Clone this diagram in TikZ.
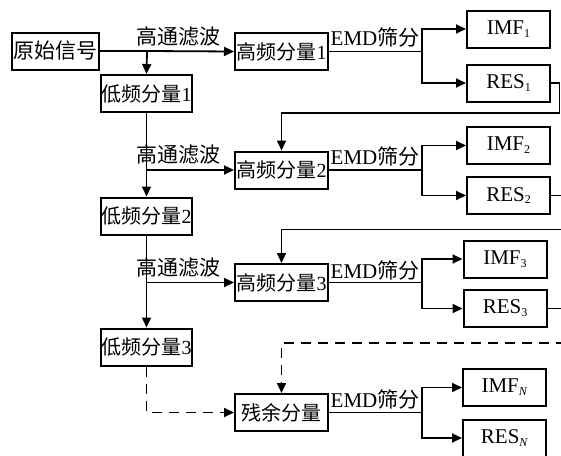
\documentclass[tikz,border=0pt]{standalone}
\usepackage{fontspec}
\setmainfont{Liberation Serif}
\newfontfamily\cjk{Noto Sans CJK SC}
\usetikzlibrary{arrows.meta}

\newcommand{\sub}[1]{\raisebox{-0.3ex}{\fontsize{12}{14}\selectfont #1}}

\tikzset{
  blk/.style={draw, line width=2pt, inner xsep=0.5pt, inner ysep=1pt,
    minimum height=37pt, font=\fontsize{20}{24}\selectfont},
  srcbox/.style={blk, minimum width=87pt, font=\fontsize{21}{25}\selectfont},
  lowbox/.style={blk, minimum width=91pt},
  highbox/.style={blk, minimum width=93pt},
  outbox/.style={blk, minimum width=83pt, font=\fontsize{21}{25}\selectfont},
  lbl/.style={inner sep=0pt, font=\fontsize{21}{25}\selectfont},
  wire/.style={line width=1.8pt},
  arr/.style={wire, -{Triangle[length=10pt,width=9pt]}},
  dsh/.style={wire, dash pattern=on 10pt off 7pt}
}

\begin{document}
\begin{tikzpicture}[x=1pt, y=-1pt]

  %% Page size
  \useasboundingbox (0,0) rectangle (561,455);

  %% Left column: signal and low frequency parts
  \node[srcbox] (src) at (55.5,51) {{\cjk 原始信号}};
  \node[lowbox] (low1) at (146.5,93.5) {{\cjk 低频分量}1};
  \node[lowbox] (low2) at (146.5,216) {{\cjk 低频分量}2};
  \node[lowbox] (low3) at (146.5,347) {{\cjk 低频分量}3};

  %% Middle column: high frequency parts
  \node[highbox] (high1) at (281.5,51.5) {{\cjk 高频分量}1};
  \node[highbox] (high2) at (281.5,170) {{\cjk 高频分量}2};
  \node[highbox] (high3) at (281.5,282.5) {{\cjk 高频分量}3};
  \node[highbox] (resid) at (281.5,412.5) {{\cjk 残余分量}};

  %% Right column: IMF and residue
  \node[outbox] (imf1) at (508.5,29) {IMF\sub{1}};
  \node[outbox] (res1) at (508.5,83) {RES\sub{1}};
  \node[outbox] (imf2) at (508.5,145.5) {IMF\sub{2}};
  \node[outbox] (res2) at (508.5,195.5) {RES\sub{2}};
  \node[outbox] (imf3) at (505,259) {IMF\sub{3}};
  \node[outbox] (res3) at (505,308.5) {RES\sub{3}};
  \node[outbox] (imfN) at (504.5,387.5) {IMF\sub{\textit{N}}};
  \node[outbox] (resN) at (504.5,438) {RES\sub{\textit{N}}};

  %% Labels
  \node[lbl] (hp1) at (178,37) {{\cjk 高通滤波}};
  \node[lbl] (hp2) at (178,155) {{\cjk 高通滤波}};
  \node[lbl] (hp3) at (178,268) {{\cjk 高通滤波}};
  \node[lbl] (emd1) at (375,37) {EMD{\cjk 筛分}};
  \node[lbl] (emd2) at (375,156) {EMD{\cjk 筛分}};
  \node[lbl] (emd3) at (375,270) {EMD{\cjk 筛分}};
  \node[lbl] (emd4) at (375,399) {EMD{\cjk 筛分}};

  %% Split points
  \coordinate (j0) at (147,51);
  \coordinate (j1) at (147,170);
  \coordinate (j2) at (147,282.5);
  \coordinate (e1) at (422,51.5);
  \coordinate (e2) at (422,170);
  \coordinate (e3) at (422,282.5);
  \coordinate (e4) at (422,412.5);
  \coordinate (f1) at (559.5,113);
  \coordinate (f2) at (566,229.5);
  \coordinate (f3) at (566,308.5);
  \coordinate (f4) at (566,343);

  %% High pass filtering
  \draw[wire] (src.east) -- (j0);
  \draw[arr] (j0) -- (high1.west);
  \draw[arr] (j0) -- (low1.north);
  \draw[arr] (low1.south) -- (low2.north);
  \draw[arr] (j1) -- (high2.west);
  \draw[arr] (low2.south) -- (low3.north);
  \draw[arr] (j2) -- (high3.west);
  \draw[dsh, -{Triangle[length=10pt,width=9pt]}] (low3.south) |- (resid.west);

  %% EMD sifting
  \draw[wire] (high1.east) -- (e1);
  \draw[arr] (e1) |- (imf1.west);
  \draw[arr] (e1) |- (res1.west);
  \draw[wire] (high2.east) -- (e2);
  \draw[arr] (e2) |- (imf2.west);
  \draw[arr] (e2) |- (res2.west);
  \draw[wire] (high3.east) -- (e3);
  \draw[arr] (e3) |- (imf3.west);
  \draw[arr] (e3) |- (res3.west);
  \draw[wire] (resid.east) -- (e4);
  \draw[arr] (e4) |- (imfN.west);
  \draw[arr] (e4) |- (resN.west);

  %% Feedback of the residue
  \draw[wire] (res1.east) -| (f1);
  \draw[arr] (f1) -| (high2.north);
  \draw[wire] (res2.east) -| (f2);
  \draw[arr] (f2) -| (high3.north);
  \draw[wire] (res3.east) -- (f3);
  \draw[dsh, -{Triangle[length=10pt,width=9pt]}] (f4) -| (resid.north);

\end{tikzpicture}
\end{document}
